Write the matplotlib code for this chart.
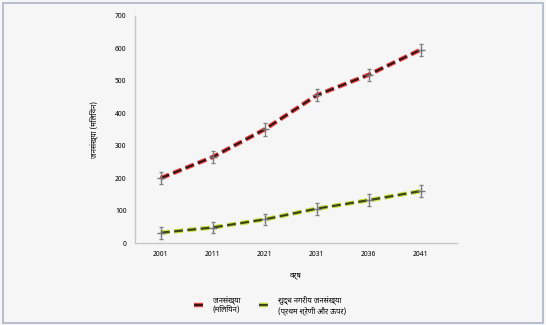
import matplotlib.pyplot as plt
import matplotlib.patheffects as pe
from matplotlib.patches import Rectangle

# data
years = ['2001', '2011', '2021', '2031', '2036', '2041']
population = [200, 265, 350, 455, 518, 595]
population_err = [18, 18, 20, 18, 18, 18]
urban = [32, 48, 73, 106, 132, 160]
urban_err = [18, 18, 18, 18, 18, 18]
yticks = [0, 100, 200, 300, 400, 500, 600, 700]

plt.rcParams['font.family'] = ['Noto Sans Devanagari', 'Lohit Devanagari', 'FreeSans', 'DejaVu Sans']

fig = plt.figure(figsize=(5.46, 3.25), dpi=100, facecolor='#f6f6f6')
# outer frame
fig.patches.append(Rectangle((0.006, 0.006), 0.988, 0.985, transform=fig.transFigure,
                             fill=False, edgecolor='#aab4c8', linewidth=1.2))
ax = fig.add_axes([0.247, 0.252, 0.59, 0.70])
ax.set_facecolor('#f6f6f6')

x = list(range(len(years)))

# dashed lines with coloured halo
ax.plot(x, population, color='#3a1414', linestyle='--', linewidth=1.6, dashes=(4, 2),
        path_effects=[pe.Stroke(linewidth=3.2, foreground='#f04848'), pe.Normal()],
        label='जनसंख्या\n(मिलियन)')
ax.plot(x, urban, color='#3c4418', linestyle='--', linewidth=1.6, dashes=(4, 2),
        path_effects=[pe.Stroke(linewidth=3.2, foreground='#c8e040'), pe.Normal()],
        label='शुद्ध नगरीय जनसंख्या\n(प्रथम श्रेणी और ऊपर)')

# error bars with "+" markers
ax.errorbar(x, population, yerr=population_err, fmt='+', color='#777777', markersize=6,
            ecolor='#808080', elinewidth=0.8, capsize=1.5)
ax.errorbar(x, urban, yerr=urban_err, fmt='+', color='#777777', markersize=6,
            ecolor='#808080', elinewidth=0.8, capsize=1.5)

ax.set_xlim(-0.5, 5.7)
ax.set_ylim(0, 700)
ax.set_xticks(x)
ax.set_xticklabels(years, fontsize=5, fontweight='bold')
ax.set_yticks(yticks)
ax.set_yticklabels([str(v) for v in yticks], fontsize=5, fontweight='bold')
ax.tick_params(length=0, pad=6)
for s in ['top', 'right']:
    ax.spines[s].set_visible(False)
for s in ['left', 'bottom']:
    ax.spines[s].set_color('#c8c8c8')
    ax.spines[s].set_linewidth(1.0)

ax.set_xlabel('वर्ष', fontsize=5.5, fontweight='bold', labelpad=10)
ax.set_ylabel('जनसंख्या (मिलियन)', fontsize=5.5, fontweight='bold', labelpad=12)

handles, labels = ax.get_legend_handles_labels()
ax.legend(handles[:2], labels[:2], loc='upper center', bbox_to_anchor=(0.42, -0.2), ncol=2,
          frameon=False, fontsize=5.5, handlelength=1.6, columnspacing=2.5)

fig.savefig('out.png', dpi=100, facecolor=fig.get_facecolor())
